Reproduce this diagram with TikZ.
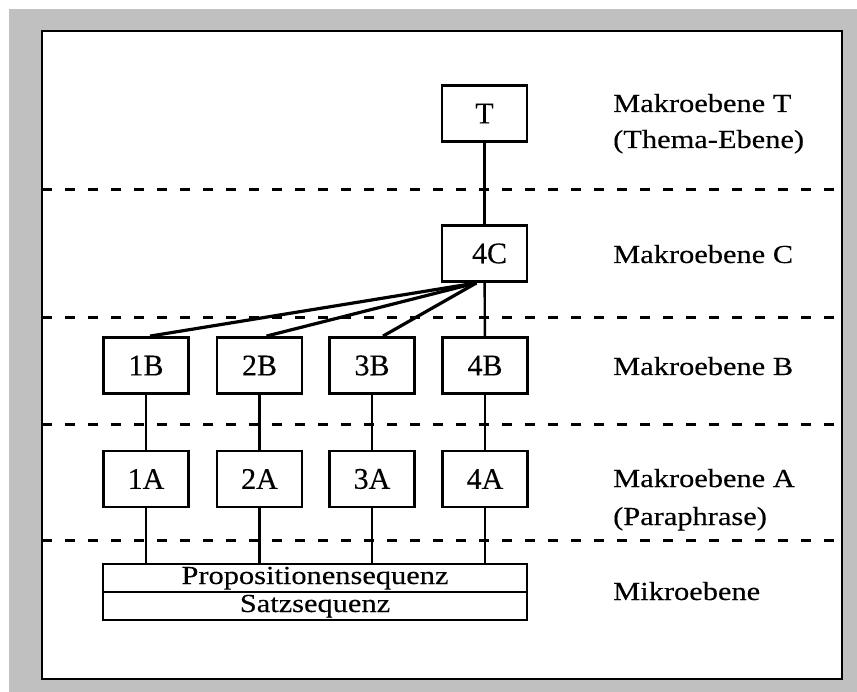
\documentclass[tikz,border=0pt]{standalone}
\usepackage{fontspec}
\setmainfont{Liberation Serif}[FakeBold=0.25]
\newfontfamily\widefont{Liberation Serif}[FakeStretch=1.17,FakeBold=0.25]
\usetikzlibrary{calc}
\definecolor{paper}{RGB}{192,192,192}
\begin{document}
\begin{tikzpicture}[x=1pt,y=-1pt,
  unit/.style={draw, line width=2.8pt, fill=white, minimum width=85pt, minimum height=56pt,
    inner sep=0pt, font=\fontsize{30}{30}\selectfont},
  level/.style={anchor=base west, inner sep=0pt, font=\widefont\fontsize{26}{30}\selectfont},
  seq/.style={draw, line width=2.8pt, minimum width=424pt, minimum height=28pt, inner sep=0pt,
    text height=17pt, text depth=5pt, font=\widefont\fontsize{26}{30}\selectfont},
  sep/.style={line width=3pt, dash pattern=on 10pt off 13pt},
  link/.style={line width=2.4pt},
  fan/.style={line width=3.2pt}]
% page and frame
\useasboundingbox (0,0) rectangle (857,692);
\fill[white] (0,0) rectangle (857,692);
\fill[paper] (9,9) rectangle (857,692);
\draw[line width=2.8pt, fill=white] (42,31) rectangle (842,679);

% level separators
\foreach \yy in {190,318,425,540}
  \draw[sep] (42,\yy) -- (842,\yy);

% units
\node[unit] (t)  at (484.5,113.5) {T};
\node[unit] (c4) at (484.5,253.5) {\raisebox{-8pt}{\hspace*{10pt}4C}};
\node[unit] (b1) at (146,365.5) {1B};
\node[unit] (b2) at (259.5,365.5) {2B};
\node[unit] (b3) at (372,365.5) {3B};
\node[unit] (b4) at (485,365.5) {4B};
\node[unit] (a1) at (146,479) {1A};
\node[unit] (a2) at (259.5,479) {2A};
\node[unit] (a3) at (372,479) {3A};
\node[unit] (a4) at (485,479) {4A};

% micro level
\node[seq] (prop) at (315,578) {Propositionensequenz};
\node[seq] (satz) at (315,606) {Satzsequenz};

% connectors
\draw[link] (t) -- (c4);
\draw[link] (c4) -- (b4);
\coordinate (hub) at ($(c4.south)+(-8,0)$);
\draw[fan] (hub) -- ($(b1.north)+(4,0)$);
\draw[fan] (hub) -- ($(b2.north)+(7,0)$);
\draw[fan] (hub) -- ($(b3.north)+(11,0)$);
\foreach \i in {1,2,3,4} {
  \draw[link] (b\i) -- (a\i);
  \draw[link] (a\i.south) -- (a\i.south |- prop.north);
}

% level names
\node[level] (lt)  at (613,112) {Makroebene T};
\node[level] (lt2) at (613,148) {(Thema-Ebene)};
\node[level] (lc)  at (613,263) {Makroebene C};
\node[level] (lb)  at (613,375) {Makroebene B};
\node[level] (la)  at (613,487) {Makroebene A};
\node[level] (la2) at (613,525) {(Paraphrase)};
\node[level] (lm)  at (613,600) {Mikroebene};
\end{tikzpicture}
\end{document}
